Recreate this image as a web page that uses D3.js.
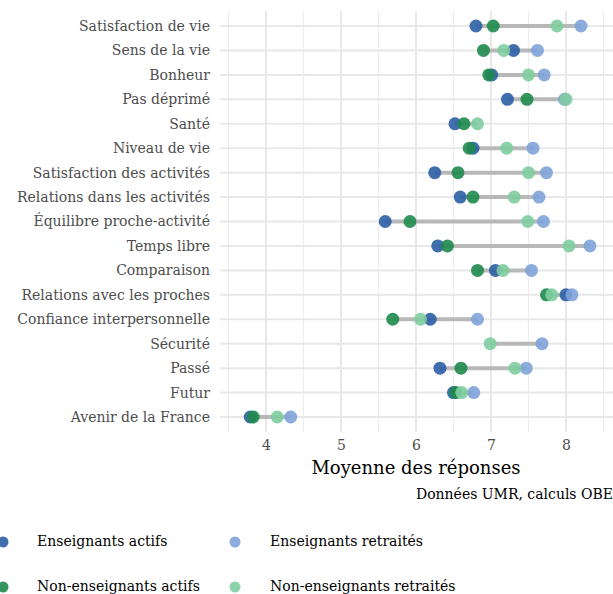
<!DOCTYPE html>
<html>
<head>
<meta charset="utf-8">
<script src="https://cdn.jsdelivr.net/npm/d3@7"></script>
<style>
  body { margin: 0; background: #fff; }
  text { font-family: "DejaVu Serif", serif; }
</style>
</head>
<body>
<div id="chart"></div>
<script>
const categories = [
  'Satisfaction de vie', 'Sens de la vie', 'Bonheur', 'Pas déprimé', 'Santé',
  'Niveau de vie', 'Satisfaction des activités', 'Relations dans les activités',
  'Équilibre proche-activité', 'Temps libre', 'Comparaison', 'Relations avec les proches',
  'Confiance interpersonnelle', 'Sécurité', 'Passé', 'Futur', 'Avenir de la France'
];

const seriesNames = ['Enseignants actifs', 'Enseignants retraités', 'Non-enseignants actifs', 'Non-enseignants retraités'];
const seriesColors = ['#2c5ea3', '#7fa3da', '#1f8a4c', '#7fcd9f'];

const enseignantsActifs = [6.80, 7.30, 7.01, 7.22, 6.52, 6.76, 6.25, 6.59, 5.59, 6.29, 7.06, 8.00, 6.19, null, 6.32, 6.50, 3.79];
const enseignantsRetraites = [8.20, 7.62, 7.71, 7.98, null, 7.56, 7.74, 7.64, 7.70, 8.32, 7.54, 8.08, 6.82, 7.68, 7.47, 6.77, 4.33];
const nonEnseignantsActifs = [7.03, 6.90, 6.97, 7.48, 6.64, 6.71, 6.56, 6.76, 5.92, 6.42, 6.82, 7.74, 5.69, null, 6.60, 6.53, 3.83];
const nonEnseignantsRetraites = [7.88, 7.17, 7.50, 8.00, 6.82, 7.21, 7.50, 7.31, 7.49, 8.04, 7.16, 7.81, 6.06, 6.99, 7.32, 6.61, 4.15];

const xTicks = [4, 5, 6, 7, 8];

const width = 613, height = 594;
const margin = { top: 11, right: 0, bottom: 162, left: 220 };

const series = [enseignantsActifs, enseignantsRetraites, nonEnseignantsActifs, nonEnseignantsRetraites];

const points = [];
series.forEach((vals, s) => {
  vals.forEach((v, i) => {
    if (v != null) points.push({ cat: categories[i], value: v, s });
  });
});

const ranges = categories.map((c, i) => {
  const vals = series.map(a => a[i]).filter(v => v != null);
  return { cat: c, min: d3.min(vals), max: d3.max(vals) };
});

const svg = d3.select('#chart').append('svg')
  .attr('width', width)
  .attr('height', height);

const x = d3.scaleLinear()
  .domain([3.387, 8.627])
  .range([margin.left, width - margin.right]);

const y = d3.scalePoint()
  .domain(categories)
  .range([margin.top + 15, height - margin.bottom - 15]);

const panelTop = margin.top, panelBottom = height - margin.bottom;

// grid
const minor = d3.range(3.5, 8.6, 0.5).filter(v => !xTicks.includes(v));
svg.append('g').selectAll('line.minor')
  .data(minor)
  .join('line')
  .attr('x1', d => x(d)).attr('x2', d => x(d))
  .attr('y1', panelTop).attr('y2', panelBottom)
  .attr('stroke', '#ededed').attr('stroke-width', 1.2);

svg.append('g').selectAll('line.major')
  .data(xTicks)
  .join('line')
  .attr('x1', d => x(d)).attr('x2', d => x(d))
  .attr('y1', panelTop).attr('y2', panelBottom)
  .attr('stroke', '#e8e8e8').attr('stroke-width', 2);

svg.append('g').selectAll('line.hgrid')
  .data(categories)
  .join('line')
  .attr('x1', margin.left).attr('x2', width)
  .attr('y1', d => y(d)).attr('y2', d => y(d))
  .attr('stroke', '#e8e8e8').attr('stroke-width', 2);

// range segments
svg.append('g').selectAll('line.seg')
  .data(ranges)
  .join('line')
  .attr('x1', d => x(d.min)).attr('x2', d => x(d.max))
  .attr('y1', d => y(d.cat)).attr('y2', d => y(d.cat))
  .attr('stroke', '#b8b8b8').attr('stroke-width', 4);

// points
svg.append('g').selectAll('circle')
  .data(points)
  .join('circle')
  .attr('cx', d => x(d.value))
  .attr('cy', d => y(d.cat))
  .attr('r', 6.5)
  .attr('fill', d => seriesColors[d.s])
  .attr('fill-opacity', 0.9);

// y axis labels
const yAxis = svg.append('g')
  .attr('transform', `translate(${margin.left - 10},0)`)
  .call(d3.axisLeft(y).tickSize(0).tickPadding(0));
yAxis.select('.domain').remove();
yAxis.selectAll('text')
  .attr('font-family', '"DejaVu Serif", serif')
  .attr('font-size', 14)
  .attr('fill', '#4d4d4d');

// x axis
const xAxis = svg.append('g')
  .attr('transform', `translate(0,${panelBottom})`)
  .call(d3.axisBottom(x).tickValues(xTicks).tickSize(0).tickPadding(8).tickFormat(d3.format('d')));
xAxis.select('.domain').remove();
xAxis.selectAll('text')
  .attr('font-family', '"DejaVu Serif", serif')
  .attr('font-size', 14)
  .attr('fill', '#4d4d4d');

svg.append('text')
  .attr('x', (x(4) + x(8)) / 2 + 0)
  .attr('y', 474)
  .attr('text-anchor', 'middle')
  .attr('font-size', 18)
  .attr('fill', '#000')
  .text('Moyenne des réponses');

svg.append('text')
  .attr('x', width)
  .attr('y', 499)
  .attr('text-anchor', 'end')
  .attr('font-size', 14)
  .attr('fill', '#000')
  .text('Données UMR, calculs OBE');

// legend
const legendPos = [
  { cx: 3, tx: 37, y: 542 }, { cx: 235, tx: 270, y: 542 },
  { cx: 3, tx: 37, y: 587 }, { cx: 235, tx: 270, y: 587 }
];
const legend = svg.append('g').selectAll('g')
  .data(seriesNames)
  .join('g');
legend.append('circle')
  .attr('cx', (d, i) => legendPos[i].cx)
  .attr('cy', (d, i) => legendPos[i].y)
  .attr('r', 5.5)
  .attr('fill', (d, i) => seriesColors[i])
  .attr('fill-opacity', 0.9);
legend.append('text')
  .attr('x', (d, i) => legendPos[i].tx)
  .attr('y', (d, i) => legendPos[i].y)
  .attr('dominant-baseline', 'middle')
  .attr('font-size', 14)
  .attr('fill', '#000')
  .text(d => d);
</script>
</body>
</html>
